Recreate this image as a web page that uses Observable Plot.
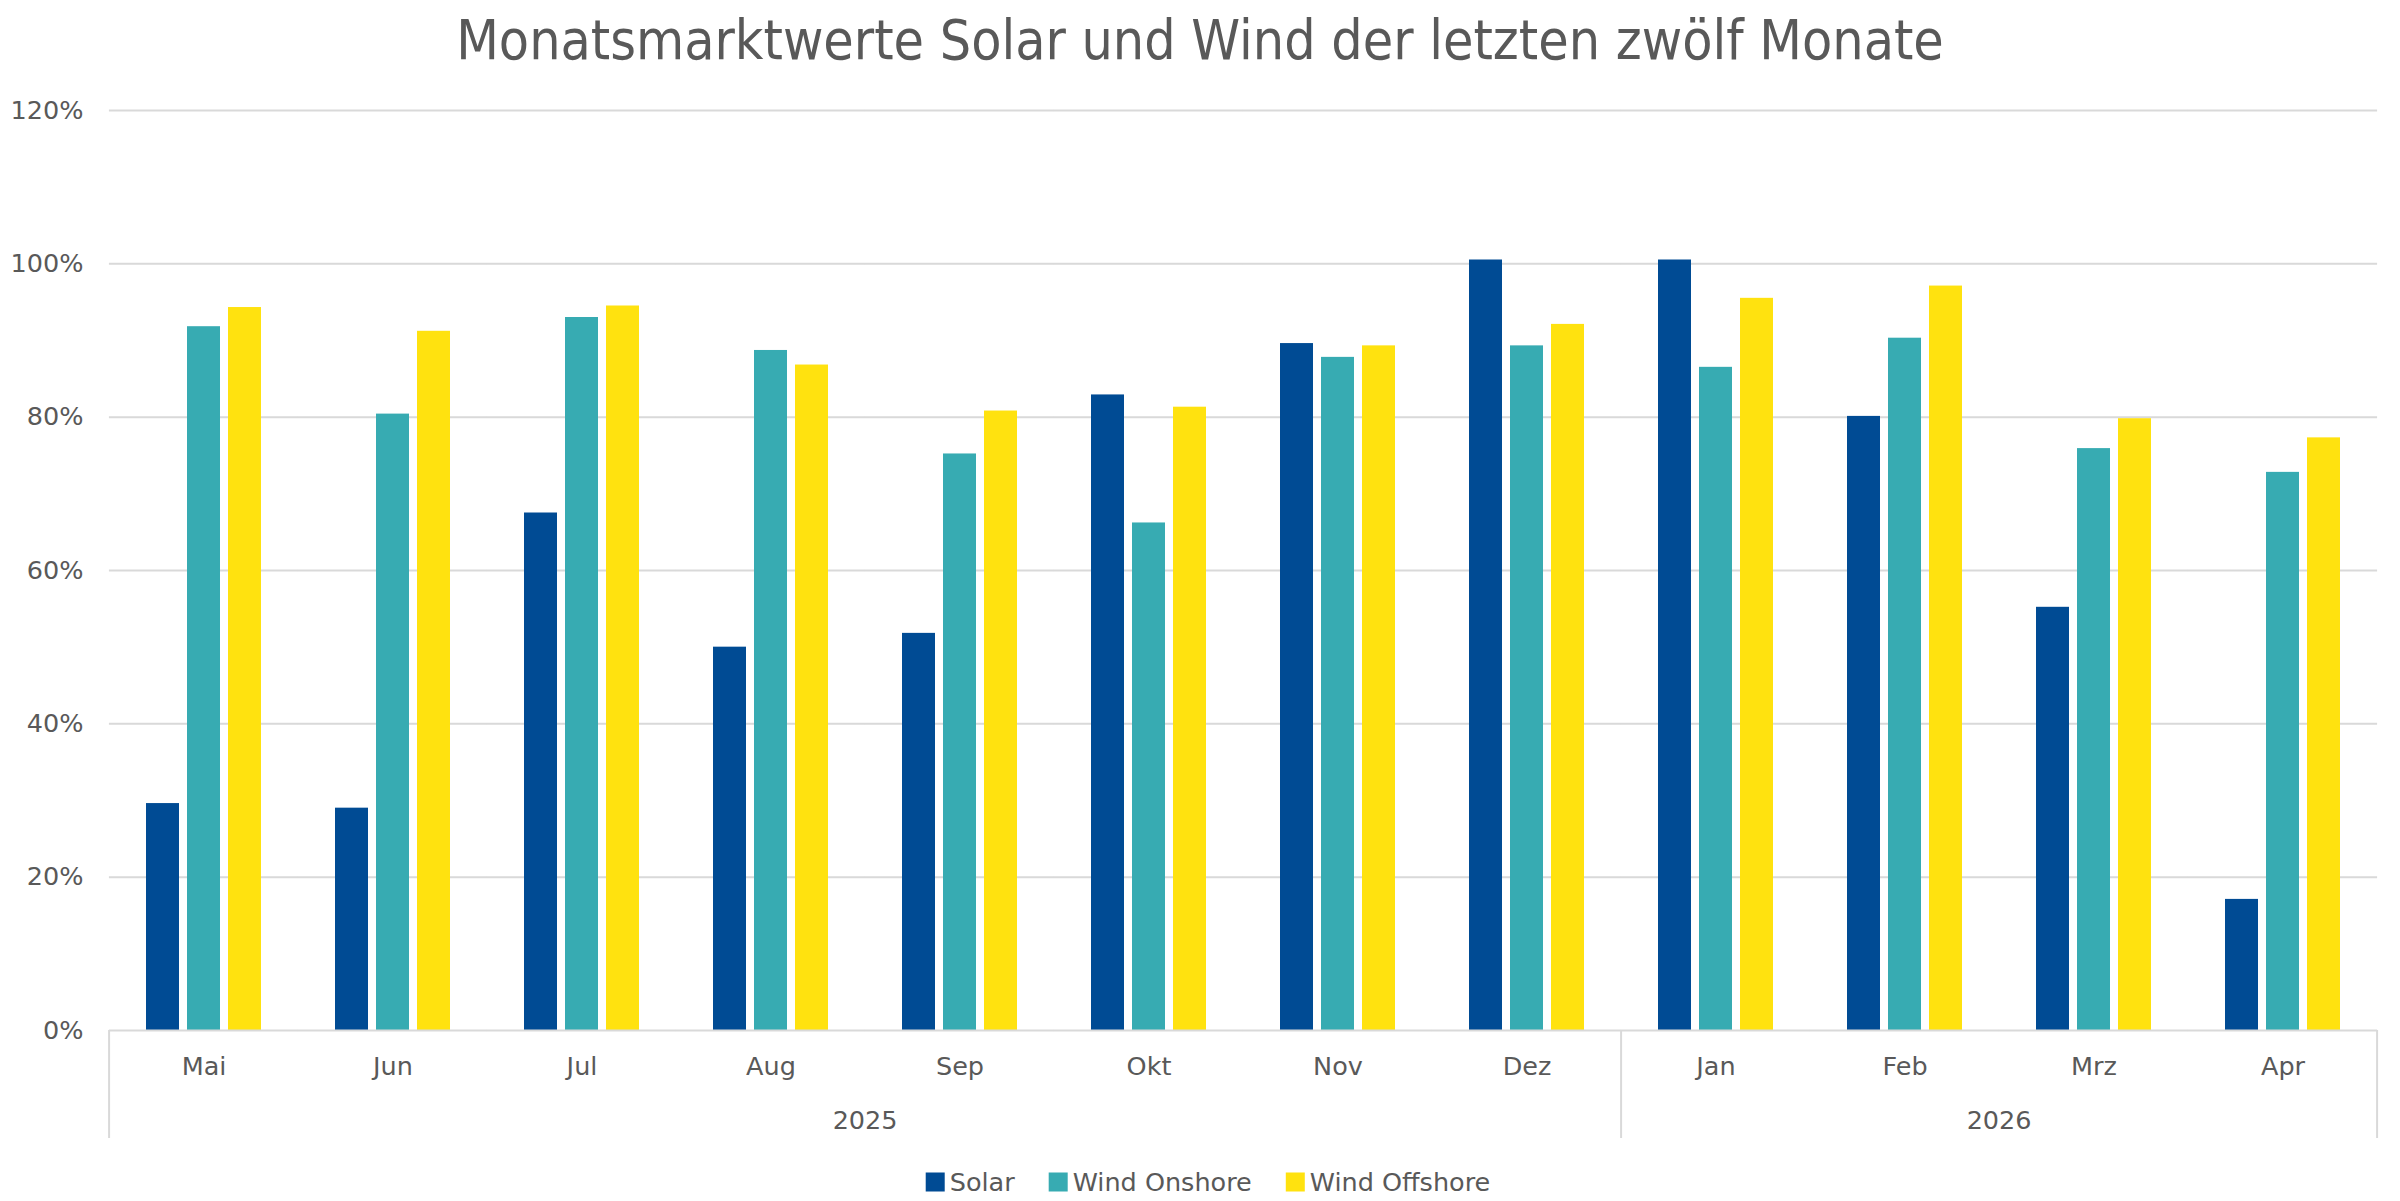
<!DOCTYPE html>
<html><head><meta charset="utf-8">
<script src="https://cdn.jsdelivr.net/npm/d3@7"></script>
<script src="https://cdn.jsdelivr.net/npm/@observablehq/plot@0.6"></script>
<style>
html,body{margin:0;padding:0;background:#fff;}
#chart{position:relative;width:2400px;height:1201px;}
</style></head><body><div id="chart"></div>
<script>
// ---- data ----
const months = ["Mai","Jun","Jul","Aug","Sep","Okt","Nov","Dez","Jan","Feb","Mrz","Apr"];
const years = [{label:"2025", from:"Mai", to:"Dez"}, {label:"2026", from:"Jan", to:"Apr"}];
const seriesNames = ["Solar","Wind Onshore","Wind Offshore"];
const solar        = [0.296,0.290,0.675,0.500,0.518,0.829,0.896,1.005,1.005,0.801,0.552,0.171];
const windOnshore  = [0.918,0.804,0.930,0.887,0.752,0.662,0.878,0.893,0.865,0.903,0.759,0.728];
const windOffshore = [0.943,0.912,0.945,0.868,0.808,0.813,0.893,0.921,0.955,0.971,0.798,0.773];
const yTicks = [0,0.2,0.4,0.6,0.8,1.0,1.2];
const titleText = "Monatsmarktwerte Solar und Wind der letzten zwölf Monate";
const colors = ["#004b94","#37abb2","#ffe20f"];

const seriesValues = [solar, windOnshore, windOffshore];
const data = [];
months.forEach((m,i)=>seriesNames.forEach((s,j)=>data.push({month:m, series:s, value:seriesValues[j][i]})));

// ---- layout ----
const W=2400, H=1201, mL=104, mR=17, mT=110, mB=171;
const step = (W-mL-mR)/months.length;
const padIn = 0.38, padOut = padIn/2;
const halfGap = padOut*step;
const textColor = "#595959", gridColor = "#d9d9d9";
const font = "'DejaVu Sans', sans-serif";
const fs = 25.5;

const chart = Plot.plot({
  width: W, height: H,
  marginLeft: mL, marginRight: mR, marginTop: mT, marginBottom: mB,
  style: {fontFamily: font, fontSize: fs+"px", color: textColor, background: "white", overflow: "visible"},
  fx: {domain: months, paddingInner: padIn, paddingOuter: padOut, label: null, axis: null},
  x: {domain: seriesNames, paddingInner: 0.19, paddingOuter: 0, axis: null},
  y: {domain: [0, 1.2], axis: null, label: null},
  color: {domain: seriesNames, range: colors},
  marks: [
    Plot.ruleY(yTicks.filter(d=>d>0), {y: d=>d, stroke: gridColor, strokeWidth: 2, insetLeft: -halfGap, insetRight: -halfGap}),
    Plot.barY(data, {fx: "month", x: "series", y: "value", fill: "series"}),
    Plot.ruleY([0], {stroke: gridColor, strokeWidth: 2, insetLeft: -halfGap, insetRight: -halfGap}),
    Plot.axisY({ticks: yTicks, tickFormat: d3.format(".0%"), tickSize: 0, tickPadding: halfGap + 26, fontSize: fs, label: null}),
    Plot.axisFx({anchor: "bottom", tickSize: 0, tickPadding: 26, fontSize: fs, label: null})
  ]
});
document.getElementById("chart").appendChild(chart);

const svg = d3.select(chart);
const fx = chart.scale("fx"), y = chart.scale("y"), color = chart.scale("color");
const st = fx.apply(months[1]) - fx.apply(months[0]);
const bandLeft = m => fx.apply(m) - st*padIn/2;
const y0 = y.apply(0);

// category separators
const seps = [bandLeft(months[0])].concat(years.map(yr => bandLeft(yr.to) + st));
svg.append("g").selectAll("line").data(seps).join("line")
  .attr("x1", d=>d).attr("x2", d=>d).attr("y1", y0).attr("y2", y0+108)
  .attr("stroke", gridColor).attr("stroke-width", 2);

// year labels
svg.append("g").selectAll("text").data(years).join("text")
  .attr("x", d => (bandLeft(d.from) + bandLeft(d.to) + st)/2)
  .attr("y", y0 + 90)
  .attr("text-anchor", "middle").attr("dominant-baseline", "central")
  .attr("font-family", font).attr("font-size", fs).attr("fill", textColor)
  .text(d=>d.label);

// title
svg.append("text")
  .attr("x", W/2).attr("y", 40)
  .attr("text-anchor", "middle").attr("dominant-baseline", "central")
  .attr("font-family", "'DejaVu Sans Condensed', 'DejaVu Sans', sans-serif")
  .style("font-stretch", "condensed")
  .attr("font-size", 55).attr("fill", textColor)
  .text(titleText);

// legend
const lg = svg.append("g");
const sq = 19, gapText = 5, gapItem = 34, ly = 1182;
let lx = 0;
const items = seriesNames.map(s => {
  const g = lg.append("g");
  g.append("rect").attr("x", 0).attr("y", ly - sq/2).attr("width", sq).attr("height", sq).attr("fill", color.apply(s));
  const t = g.append("text").attr("x", sq + gapText).attr("y", ly)
    .attr("text-anchor", "start")
    .attr("dominant-baseline", "central").attr("font-family", font).attr("font-size", fs).attr("fill", textColor).text(s);
  return {g, w: sq + gapText + t.node().getComputedTextLength()};
});
const total = d3.sum(items, d=>d.w) + gapItem*(items.length-1);
lx = W/2 + 8 - total/2;
items.forEach(it => { it.g.attr("transform", `translate(${lx},0)`); lx += it.w + gapItem; });
</script></body></html>
